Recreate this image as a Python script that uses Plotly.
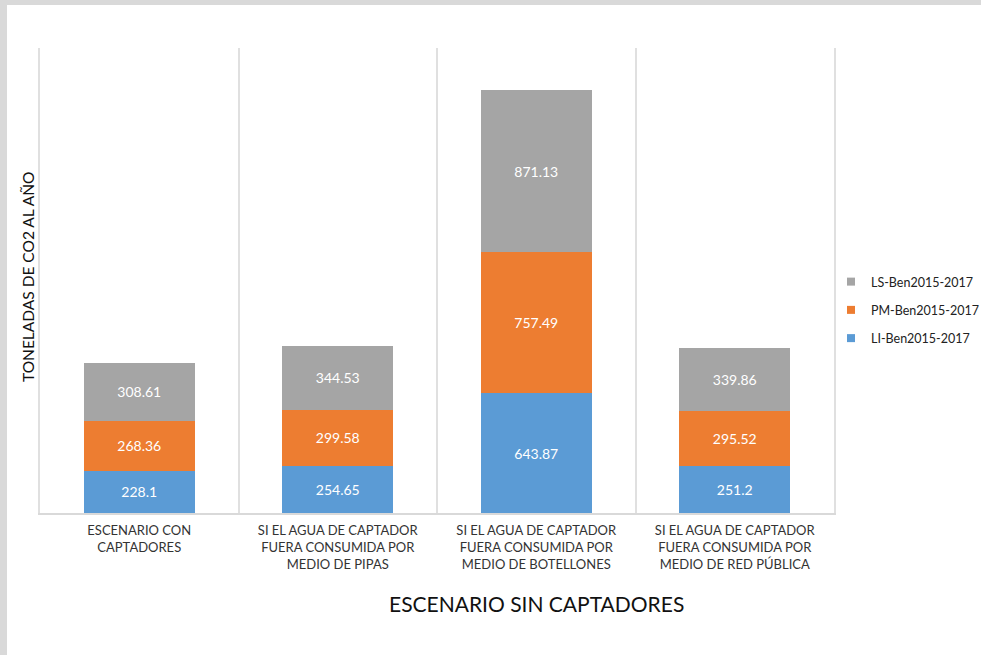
import plotly.graph_objects as go

# Scenario categories (x axis) and CO2 tonnes per year for each benefit series
categories = [
    "ESCENARIO CON<br>CAPTADORES",
    "SI EL AGUA DE CAPTADOR<br>FUERA CONSUMIDA POR<br>MEDIO DE PIPAS",
    "SI EL AGUA DE CAPTADOR<br>FUERA CONSUMIDA POR<br>MEDIO DE BOTELLONES",
    "SI EL AGUA DE CAPTADOR<br>FUERA CONSUMIDA POR<br>MEDIO DE RED PÚBLICA",
]
li_values = [228.1, 254.65, 643.87, 251.2]
pm_values = [268.36, 299.58, 757.49, 295.52]
ls_values = [308.61, 344.53, 871.13, 339.86]

series_names = ["LI-Ben2015-2017", "PM-Ben2015-2017", "LS-Ben2015-2017"]
series_values = [li_values, pm_values, ls_values]
series_colors = ["#5b9bd5", "#ed7d31", "#a5a5a5"]

positions = list(range(len(categories)))
FONT = "Lato"

fig = go.Figure()

# stacked bars, bottom series first
for name, vals, color in zip(series_names, series_values, series_colors):
    fig.add_trace(go.Bar(
        x=positions,
        y=vals,
        name=name,
        marker=dict(color=color, line=dict(width=0)),
        text=[str(v) for v in vals],
        textposition="inside",
        insidetextanchor="middle",
        constraintext="none",
        textfont=dict(family=FONT, size=14, color="white"),
        showlegend=False,
        hoverinfo="x+y+name",
    ))

# small square legend swatches, top series listed first
for name, color in zip(reversed(series_names), reversed(series_colors)):
    fig.add_trace(go.Scatter(
        x=[None], y=[None], mode="markers", name=name,
        legendgroup=name,
        marker=dict(symbol="square", size=8, color=color),
    ))

fig.update_layout(
    width=981,
    height=655,
    barmode="stack",
    bargap=0.44,
    paper_bgcolor="#d9d9d9",
    plot_bgcolor="white",
    margin=dict(l=40, r=147, t=48, b=142, autoexpand=False),
    font=dict(family=FONT, color="#333333"),
    legend=dict(
        x=(831 - 40) / 794, xanchor="left",
        y=(513 - 310) / 465, yanchor="middle",
        traceorder="grouped",
        tracegroupgap=9,
        itemwidth=30,
        font=dict(family=FONT, size=12.5, color="#222222"),
        bgcolor="rgba(0,0,0,0)",
    ),
    shapes=[
        # white chart sheet over the grey page border
        dict(type="rect", xref="paper", yref="paper",
             x0=(7 - 40) / 794, x1=1.3, y0=-0.4, y1=(513 - 5) / 465,
             fillcolor="white", line=dict(width=0), layer="below"),
    ],
    annotations=[
        dict(text="TONELADAS DE CO2 AL AÑO", textangle=-90,
             xref="paper", yref="paper",
             x=(28 - 40) / 794, y=(513 - 277) / 465,
             xanchor="center", yanchor="middle", showarrow=False,
             font=dict(family=FONT, size=15.5, color="#111111")),
        dict(text="ESCENARIO SIN CAPTADORES",
             xref="paper", yref="paper",
             x=(536 - 40) / 794, y=(513 - 603) / 465,
             xanchor="center", yanchor="middle", showarrow=False,
             font=dict(family=FONT, size=21, color="#111111")),
    ],
)

fig.update_xaxes(
    range=[-0.5, len(categories) - 0.5],
    tickmode="array",
    tickvals=positions,
    ticktext=categories,
    ticks="",
    tickangle=0,
    ticklabelstandoff=5,
    tickfont=dict(family=FONT, size=13, color="#333333"),
    showgrid=False,
    zeroline=False,
    showline=True,
    linecolor="#d9d9d9",
    linewidth=1.5,
    minor=dict(tick0=-0.5, dtick=1, showgrid=True,
               gridcolor="#e0e0e0", gridwidth=1.5),
)

fig.update_yaxes(
    range=[0, 2500],
    showticklabels=False,
    ticks="",
    showgrid=False,
    zeroline=False,
    showline=True,
    mirror=True,
    linecolor="#e0e0e0",
    linewidth=1.5,
)

fig.write_html("out.html")
